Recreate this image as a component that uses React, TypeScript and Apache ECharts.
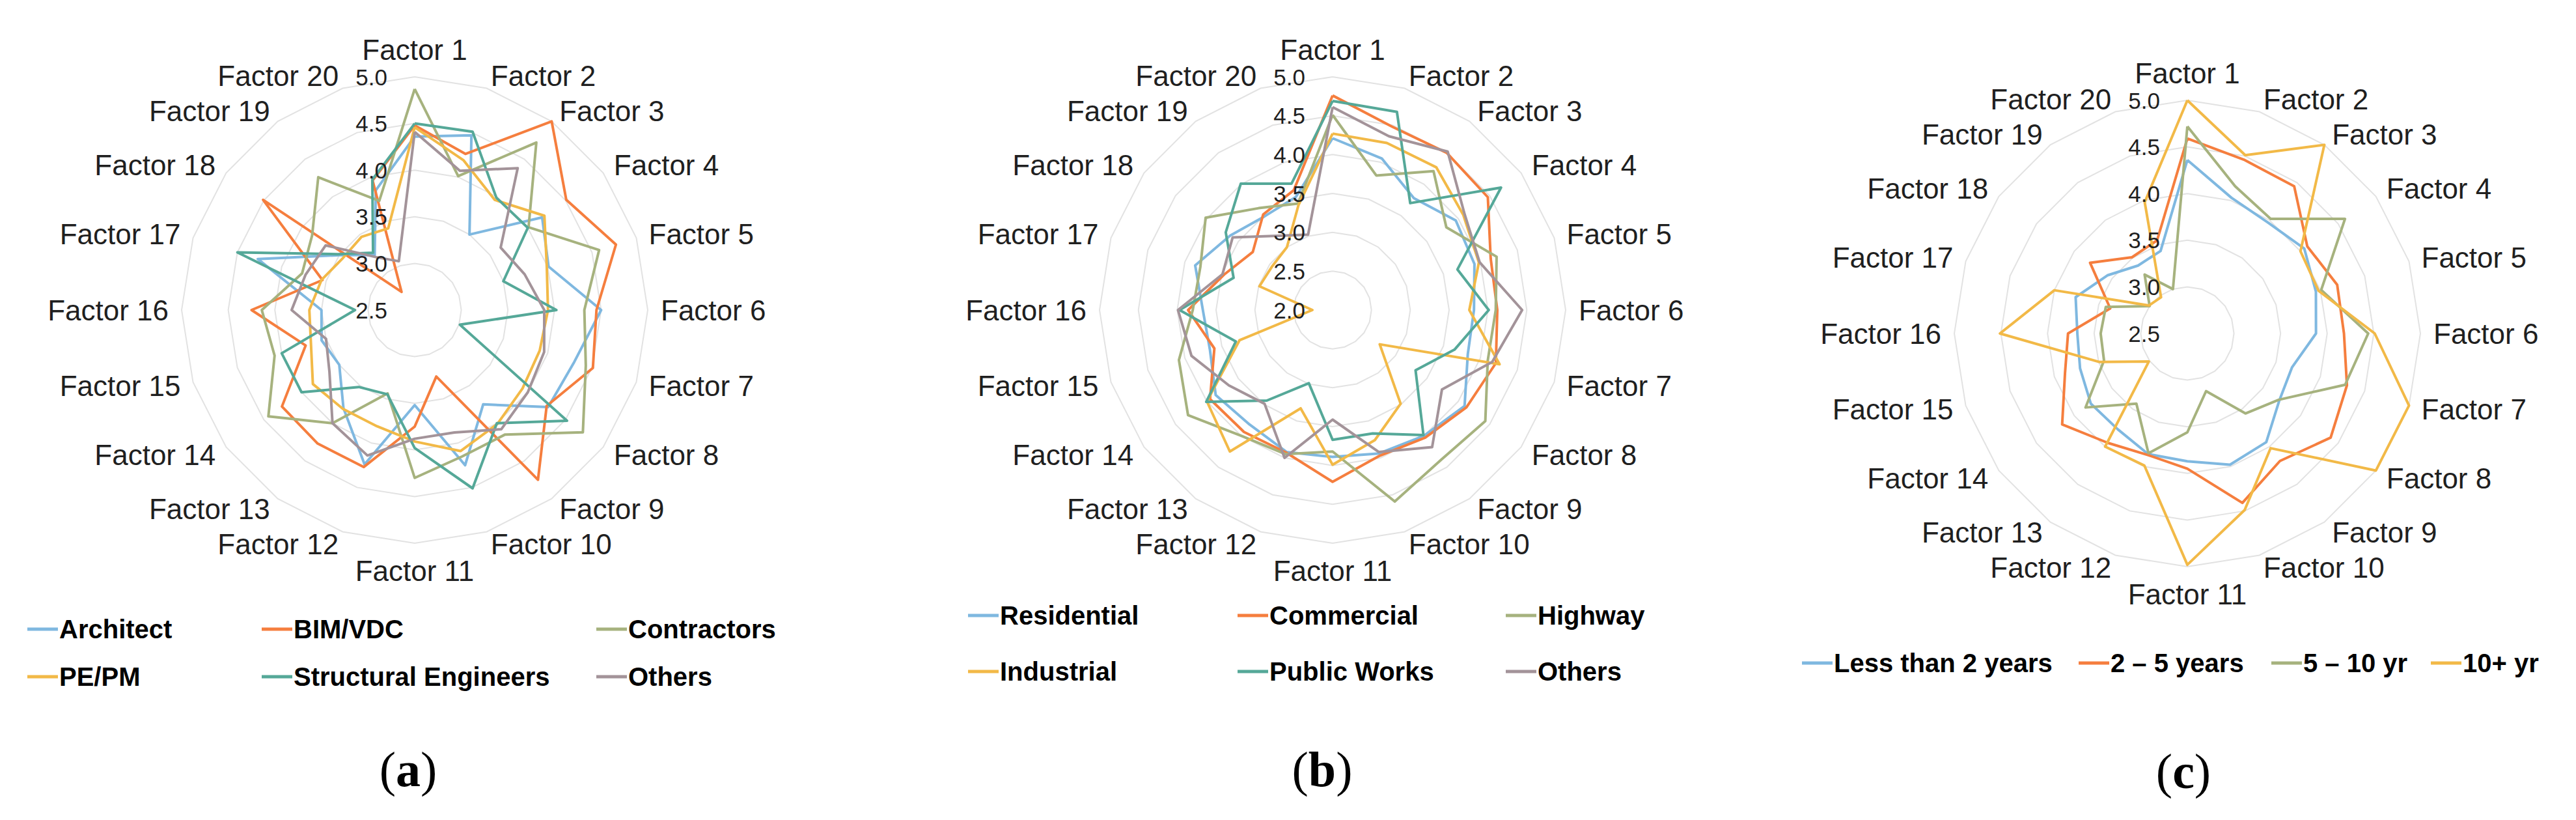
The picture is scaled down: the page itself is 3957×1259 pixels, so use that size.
import React, { useEffect, useRef } from "react";
import * as echarts from "echarts";

// ---------- data ----------
const factors = [
  "Factor 1", "Factor 2", "Factor 3", "Factor 4", "Factor 5",
  "Factor 6", "Factor 7", "Factor 8", "Factor 9", "Factor 10",
  "Factor 11", "Factor 12", "Factor 13", "Factor 14", "Factor 15",
  "Factor 16", "Factor 17", "Factor 18", "Factor 19", "Factor 20",
];

// (a) by profession
const namesA = ["Architect", "BIM/VDC", "Contractors", "PE/PM", "Structural Engineers", "Others"];
const architect = [4.36, 4.47, 3.5, 4.19, 4.01, 4.5, 4.3, 4.27, 3.75, 4.25, 3.52, 4.24, 3.8, 3.5, 3.55, 3.5, 4.27, 3.5, 3.23, 3.85];
const bimVdc = [4.48, 4.26, 5.0, 4.51, 4.77, 4.45, 4.51, 4.25, 4.75, 3.25, 3.75, 4.27, 4.27, 4.26, 3.73, 4.25, 3.54, 4.51, 2.74, 3.96];
const contractors = [4.87, 4.01, 4.72, 4.01, 4.58, 4.32, 4.43, 4.73, 4.15, 4.15, 4.3, 3.44, 4.0, 4.44, 4.08, 4.14, 3.77, 3.86, 4.26, 3.73];
const pePm = [4.46, 4.19, 3.96, 4.22, 3.99, 3.93, 3.91, 3.93, 4.01, 4.09, 3.91, 3.81, 3.81, 3.85, 3.67, 3.63, 3.55, 3.45, 3.47, 3.42];
const structural = [4.5, 4.51, 3.99, 4.0, 3.5, 4.02, 3.01, 4.52, 4.0, 4.51, 3.98, 3.45, 3.52, 4.0, 4.0, 3.14, 4.5, 3.52, 3.26, 3.97];
const othersA = [4.41, 4.07, 4.38, 3.64, 3.74, 3.89, 3.96, 4.0, 4.08, 3.88, 3.88, 4.14, 4.0, 3.63, 3.5, 3.82, 3.73, 3.68, 3.2, 3.05];

// (b) by project type
const namesB = ["Residential", "Commercial", "Highway", "Industrial", "Public Works", "Others"];
const residential = [4.21, 4.05, 3.78, 3.96, 3.92, 3.82, 3.83, 4.1, 4.0, 3.94, 3.89, 3.92, 3.82, 3.86, 3.66, 3.67, 3.86, 3.63, 3.49, 3.53];
const commercial = [4.76, 4.48, 4.5, 4.47, 4.14, 4.12, 4.21, 4.13, 4.03, 3.97, 4.21, 3.93, 3.94, 3.95, 3.6, 3.86, 3.47, 3.27, 3.52, 3.62];
const highway = [4.51, 3.82, 4.21, 3.81, 4.22, 4.1, 4.1, 4.43, 4.38, 4.59, 3.82, 3.95, 4.0, 4.3, 4.08, 3.8, 3.79, 4.02, 3.62, 3.44];
const industrial = [4.27, 4.26, 4.27, 4.08, 3.98, 3.76, 4.26, 2.75, 3.49, 3.76, 3.99, 3.33, 4.25, 4.0, 3.26, 2.26, 2.99, 2.96, 3.0, 3.42];
const publicWorks = [4.69, 4.68, 3.7, 4.68, 3.69, 4.01, 3.65, 3.32, 3.99, 3.67, 3.67, 2.99, 3.44, 4.01, 3.31, 3.97, 3.34, 3.7, 4.01, 3.71];
const othersB = [4.61, 4.35, 4.52, 4.1, 3.99, 4.44, 4.16, 3.74, 4.18, 3.92, 3.41, 4.0, 3.49, 3.65, 3.91, 3.99, 3.49, 3.59, 3.18, 3.02];

// (c) by experience
const namesC = ["Less than 2 years", "2 \u2013 5 years", "5 \u2013 10 yr", "10+ yr"];
const lessThan2 = [4.36, 4.03, 3.97, 4.05, 3.95, 3.88, 3.68, 3.72, 3.94, 3.98, 3.87, 3.86, 3.77, 3.78, 3.71, 3.68, 3.76, 3.56, 3.4, 3.43];
const years2to5 = [4.59, 4.46, 4.45, 4.09, 4.19, 4.18, 4.3, 4.4, 4.19, 4.41, 3.95, 3.87, 3.95, 4.16, 3.88, 3.78, 3.37, 3.79, 3.51, 3.55];
const years5to10 = [4.72, 4.16, 4.02, 4.59, 4.01, 4.44, 4.28, 3.71, 3.56, 3.15, 3.56, 3.85, 3.43, 3.85, 3.44, 3.43, 3.42, 3.0, 3.28, 3.0];
const years10plus = [5.0, 4.51, 5.0, 4.0, 3.98, 4.51, 5.0, 5.0, 4.02, 4.49, 4.98, 3.99, 4.0, 3.01, 3.49, 4.51, 4.0, 3.01, 2.98, 3.98];

// axis ranges (tick labels every 0.5)
const axisMinA = 2.5;
const axisMinB = 2.0;
const axisMinC = 2.5;
const axisMax = 5.0;
const tickStep = 0.5;

const panelLabels = ["a", "b", "c"];

// ---------- style ----------
const C_BLUE = "#7fb8e0";
const C_ORANGE = "#f57e3e";
const C_GREEN = "#a6b27e";
const C_YELLOW = "#f2b947";
const C_TEAL = "#55a898";
const C_GRAY = "#a39399";
const FONT = "'Liberation Sans', Arial, Helvetica, sans-serif";
const R = 358;

const panels = [
  {
    center: [637, 476], min: axisMinA, names: namesA,
    values: [architect, bimVdc, contractors, pePm, structural, othersA],
    colors: [C_BLUE, C_ORANGE, C_GREEN, C_YELLOW, C_TEAL, C_GRAY],
    legendPos: [[42, 967], [402, 967], [916, 967], [42, 1040], [402, 1040], [916, 1040]],
    label: [627, 1181],
  },
  {
    center: [2047, 476], min: axisMinB, names: namesB,
    values: [residential, commercial, highway, industrial, publicWorks, othersB],
    colors: [C_BLUE, C_ORANGE, C_GREEN, C_YELLOW, C_TEAL, C_GRAY],
    legendPos: [[1487, 946], [1901, 946], [2313, 946], [1487, 1032], [1901, 1032], [2313, 1032]],
    label: [2031, 1181],
  },
  {
    center: [3360, 512], min: axisMinC, names: namesC,
    values: [lessThan2, years2to5, years5to10, years10plus],
    colors: [C_BLUE, C_ORANGE, C_GREEN, C_YELLOW],
    legendPos: [[2768, 1019], [3193, 1019], [3489, 1019], [3734, 1019]],
    label: [3354, 1184],
  },
];

// ECharts radar runs counter-clockwise; reorder so factors go clockwise
const cw = <T,>(arr: T[]): T[] => [arr[0], ...arr.slice(1).reverse()];

export default function App() {
  const ref = useRef<HTMLDivElement>(null);

  useEffect(() => {
    document.body.style.margin = "0";
    if (!ref.current) return;
    const chart = echarts.init(ref.current, null, { renderer: "svg" });

    const radar = panels.map((p) => ({
      center: p.center,
      radius: R,
      startAngle: 90,
      splitNumber: Math.round((axisMax - p.min) / tickStep),
      shape: "polygon",
      indicator: cw(factors).map((n) => ({ name: n, min: p.min, max: axisMax })),
      nameGap: 20,
      axisName: { color: "#1f1f1f", fontSize: 44, fontFamily: FONT },
      axisLine: { show: false },
      axisTick: { show: false },
      axisLabel: { show: false },
      splitLine: { lineStyle: { color: "#e2e2e2", width: 2 } },
      splitArea: { show: false },
    }));

    const polar = panels.map((p) => ({ center: p.center, radius: R }));
    const angleAxis = panels.map((p, i) => ({
      polarIndex: i, type: "value", startAngle: 90, show: false, min: 0, max: 360,
    }));
    const radiusAxis = panels.map((p, i) => ({
      polarIndex: i, type: "value", min: p.min, max: axisMax, interval: tickStep,
      axisLine: { show: false }, axisTick: { show: false }, splitLine: { show: false },
      axisLabel: {
        margin: 42, fontSize: 35, color: "#1f1f1f", fontFamily: FONT,
        formatter: (v: number) => v.toFixed(1),
      },
      z: 5,
    }));

    const series = panels.map((p, i) => ({
      type: "radar",
      radarIndex: i,
      symbol: "none",
      silent: true,
      data: p.names.map((n, k) => ({
        name: n,
        value: cw(p.values[k]),
        lineStyle: { color: p.colors[k], width: 4 },
        itemStyle: { color: p.colors[k] },
      })),
    }));

    const legend: any[] = [];
    panels.forEach((p) => {
      p.names.forEach((n, k) => {
        legend.push({
          data: [{ name: n, itemStyle: { color: p.colors[k] } }],
          left: p.legendPos[k][0],
          top: p.legendPos[k][1] - 21,
          icon: "rect",
          itemWidth: 47,
          itemHeight: 5,
          padding: 0,
          selectedMode: false,
          textStyle: { fontSize: 40, fontWeight: "bold", color: "#000", fontFamily: FONT, padding: [0, 0, 0, -3] },
        });
      });
    });

    const graphic = panels.map((p, i) => ({
      type: "text",
      x: p.label[0],
      y: p.label[1],
      style: {
        text: "(" + "{b|" + panelLabels[i] + "})",
        fontSize: 76,
        fontFamily: "'Liberation Serif', 'DejaVu Serif', serif",
        fill: "#000",
        align: "center",
        verticalAlign: "middle",
        textAlign: "center",
        textVerticalAlign: "middle",
        rich: {
          b: { fontSize: 76, fontWeight: "bold", fontFamily: "'Liberation Serif', 'DejaVu Serif', serif", fill: "#000" },
        },
      },
    }));

    chart.setOption({
      animation: false,
      backgroundColor: "#fff",
      radar,
      polar,
      angleAxis,
      radiusAxis,
      legend,
      series,
      graphic,
    });

    return () => chart.dispose();
  }, []);

  return <div ref={ref} style={{ width: 3957, height: 1259 }} />;
}
